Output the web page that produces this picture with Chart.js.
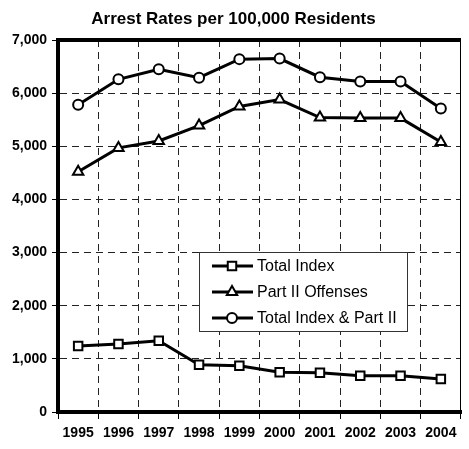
<!DOCTYPE html>
<html>
<head>
<meta charset="utf-8">
<script src="https://cdn.jsdelivr.net/npm/chart.js@4/dist/chart.umd.min.js"></script>
<style>
  body { margin: 0; background: #fff; }
  canvas { display: block; }
</style>
</head>
<body>
<canvas id="grafico" width="469" height="449"></canvas>
<script>
// dati
const anni = ['1995', '1996', '1997', '1998', '1999', '2000', '2001', '2002', '2003', '2004'];
const totalIndex = [1240, 1280, 1340, 890, 870, 750, 740, 680, 680, 620];
const partII = [4520, 4970, 5100, 5390, 5750, 5880, 5540, 5530, 5530, 5080];
const totalePiuPartII = [5780, 6260, 6450, 6290, 6640, 6650, 6300, 6220, 6220, 5710];
const titolo = 'Arrest Rates per 100,000 Residents';

const FONT = "'Liberation Sans', Arial, sans-serif";

function serie(label, data, stile, raggio) {
    return {
        label: label,
        data: data,
        borderColor: '#000',
        borderWidth: 3,
        backgroundColor: '#fff',
        pointStyle: stile,
        pointRadius: raggio,
        pointHoverRadius: raggio,
        pointBackgroundColor: '#fff',
        pointBorderColor: '#000',
        pointBorderWidth: 2,
        tension: 0
    };
}

// bordo superiore spesso e bordo destro sottile
const bordi = {
    id: 'bordi',
    afterDraw(chart) {
        const { ctx, chartArea: a } = chart;
        ctx.save();
        ctx.strokeStyle = '#000';
        ctx.lineWidth = 4;
        ctx.beginPath();
        ctx.moveTo(a.left, a.top);
        ctx.lineTo(a.right, a.top);
        ctx.stroke();
        ctx.lineWidth = 1;
        ctx.beginPath();
        ctx.moveTo(a.right - 0.5, a.top);
        ctx.lineTo(a.right - 0.5, a.bottom);
        ctx.stroke();
        ctx.restore();
    }
};

// legenda dentro l'area del grafico
const legenda = {
    id: 'legenda',
    afterDatasetsDraw(chart) {
        const { ctx, chartArea: a } = chart;
        const x = a.left + 141, y = a.top + 212, w = 208, h = 79;
        ctx.save();
        ctx.fillStyle = '#fff';
        ctx.fillRect(x, y, w, h);
        ctx.strokeStyle = '#333';
        ctx.lineWidth = 1;
        ctx.strokeRect(x + 0.5, y + 0.5, w, h);
        chart.data.datasets.forEach((ds, i) => {
            const cy = y + 14 + i * 26;
            ctx.strokeStyle = '#000';
            ctx.lineWidth = 3;
            ctx.beginPath();
            ctx.moveTo(x + 13, cy);
            ctx.lineTo(x + 54, cy);
            ctx.stroke();
            ctx.fillStyle = '#fff';
            ctx.strokeStyle = '#000';
            ctx.lineWidth = 2;
            Chart.helpers.drawPoint(ctx, {
                pointStyle: ds.pointStyle,
                radius: ds.pointRadius,
                borderWidth: 2,
                rotation: 0
            }, x + 33, cy);
            ctx.fillStyle = '#000';
            ctx.font = '16px ' + FONT;
            ctx.textBaseline = 'middle';
            ctx.textAlign = 'left';
            ctx.fillText(ds.label, x + 58, cy + 1);
        });
        ctx.restore();
    }
};

new Chart(document.getElementById('grafico'), {
    type: 'line',
    data: {
        labels: anni,
        datasets: [
            serie('Total Index', totalIndex, 'rect', 6),
            serie('Part II Offenses', partII, 'triangle', 6),
            serie('Total Index & Part II', totalePiuPartII, 'circle', 5)
        ]
    },
    options: {
        responsive: false,
        animation: false,
        layout: { padding: { left: 0, right: 2, top: 0, bottom: 0 } },
        plugins: {
            legend: { display: false },
            tooltip: { enabled: false },
            title: {
                display: true,
                text: titolo,
                color: '#000',
                font: { family: FONT, size: 17, weight: 'bold' },
                padding: { top: 9, bottom: 10.6 }
            }
        },
        scales: {
            x: {
                offset: true,
                grid: {
                    offset: true,
                    color: '#222',
                    lineWidth: 1,
                    tickLength: 7,
                    tickColor: '#000',
                    tickWidth: 1
                },
                border: { display: true, color: '#000', width: 4, dash: [7, 5] },
                ticks: {
                    color: '#000',
                    font: { family: FONT, size: 14, weight: 'bold' },
                    padding: 6,
                    maxRotation: 0,
                    autoSkip: false
                },
                afterFit(s) { s.height = 37; }
            },
            y: {
                min: 0,
                max: 7000,
                grid: {
                    color: '#222',
                    lineWidth: 1,
                    tickLength: 6,
                    tickColor: '#000',
                    tickWidth: 1
                },
                border: { display: true, color: '#000', width: 4, dash: [7, 5] },
                ticks: {
                    stepSize: 1000,
                    color: '#000',
                    font: { family: FONT, size: 14, weight: 'bold' },
                    padding: 5,
                    callback: v => v.toLocaleString('en-US')
                },
                afterFit(s) { s.width = 58; }
            }
        }
    },
    plugins: [bordi, legenda]
});
</script>
</body>
</html>
